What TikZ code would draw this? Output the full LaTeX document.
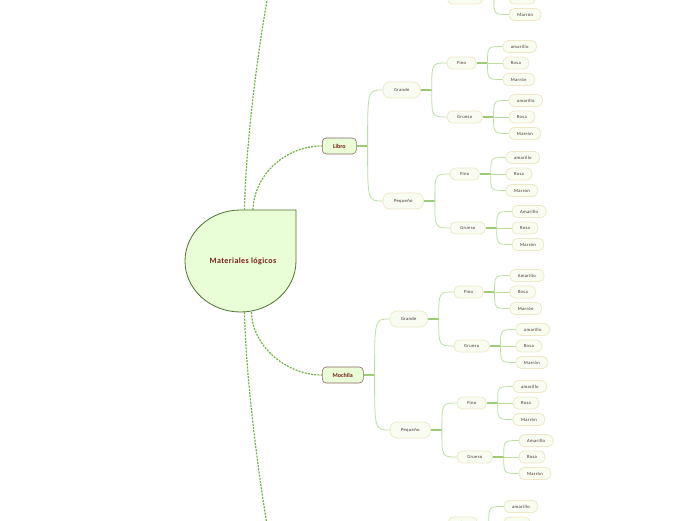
\documentclass[tikz,border=0pt]{standalone}
\usepackage{fontspec}
\setmainfont{Carlito}
\newfontfamily\mapfont{Carlito}[LetterSpace=7]
\newfontfamily\titlefont{Carlito}[LetterSpace=5]
\usetikzlibrary{positioning}

\definecolor{linkgreen}{HTML}{BCDEA3}
\definecolor{stubgreen}{HTML}{9CCB78}
\definecolor{dashgreen}{HTML}{6DB33F}
\definecolor{leaffill}{HTML}{F9FDF1}
\definecolor{leafdraw}{HTML}{EFE7C6}
\definecolor{leaftext}{HTML}{3F2C2A}
\definecolor{mainfill}{HTML}{E9FDD7}
\definecolor{maindraw}{HTML}{4E7430}
\definecolor{topdraw}{HTML}{8E6464}
\definecolor{topred}{HTML}{7A1E1E}

\begin{document}
\begin{tikzpicture}[x=1pt, y=1pt,
    leaf/.style={rectangle, draw=leafdraw, fill=leaffill, rounded corners=5pt, line width=0.8pt, minimum height=12pt, inner xsep=8pt, inner ysep=0pt, anchor=west, text=leaftext, font=\mapfont\fontsize{4.6}{5}\selectfont},
    mid/.style={leaf, inner xsep=10pt},
    grade/.style={leaf, minimum height=16pt, rounded corners=7pt, inner xsep=11pt},
    topic/.style={rectangle, draw=topdraw, fill=mainfill, rounded corners=4pt, line width=0.6pt, minimum height=16pt, inner xsep=5pt, anchor=west, text=topred, font=\fontsize{6}{7}\selectfont\bfseries},
    link/.style={draw=linkgreen, line width=0.8pt},
    stub/.style={draw=stubgreen, line width=1.5pt},
    dashlink/.style={draw=dashgreen, line width=1.2pt, dash pattern=on 2pt off 1.2pt}
]
\useasboundingbox (0,0) rectangle (696,520);
\clip (0,0) rectangle (696,520);

% central topic
\draw[maindraw, fill=mainfill, line width=0.8pt] (240.5,310) -- (296,310) -- (296,259)
    arc[start angle=0, end angle=-270, x radius=55.5pt, y radius=51pt] -- cycle;
\node[minimum width=111pt, minimum height=102pt, text=topred, font=\titlefont\fontsize{8}{9}\selectfont\bfseries] (mat) at (243,259) {Materiales lógicos};

% main topics
\node[topic, minimum width=34pt] (libro) at (322,374) {Libro};
\node[topic, minimum width=41pt] (mochila) at (322,145) {Mochila};

\foreach \t/\g in {libro/l, mochila/m} {
  \node[grade] (\g-g) at ([xshift=26pt,yshift=56pt]\t.east) {Grande};
  \node[grade] (\g-p) at ([xshift=26pt,yshift=-55pt]\t.east) {Pequeño};
  \foreach \s in {g,p} {
    \node[mid] (\g-\s-f) at ([xshift=26pt,yshift=27pt]\g-\s.east) {Fino};
    \node[mid] (\g-\s-g) at ([xshift=26pt,yshift=-27pt]\g-\s.east) {Grueso};
  }
}

% branches cut by the page edge
\node[mid] (t-g) at (447,522) {Grueso};
\node[mid] (b-f) at (448,-3) {Fino};

% colours
\foreach \p/\first in {l-g-f/amarillo, l-g-g/amarillo, l-p-f/amarillo, l-p-g/Amarillo, m-g-f/Amarillo, m-g-g/amarillo, m-p-f/amarillo, m-p-g/Amarillo, t-g/amarillo, b-f/amarillo} {
  \node[leaf] (\p-a) at ([xshift=26pt,yshift=16.5pt]\p.east) {\first};
  \node[leaf] (\p-b) at ([xshift=26pt]\p.east) {Rosa};
  \node[leaf] (\p-c) at ([xshift=26pt,yshift=-16.5pt]\p.east) {Marrón};
}

% connectors
\foreach \p/\a/\b in {libro/l-g/l-p, mochila/m-g/m-p, l-g/l-g-f/l-g-g, l-p/l-p-f/l-p-g, m-g/m-g-f/m-g-g, m-p/m-p-f/m-p-g} {
  \coordinate (\p-j) at ([xshift=11pt]\p.east);
  \draw[stub] (\p.east) -- (\p-j);
  \draw[link] (\p-j) .. controls (\p-j |- \a.west) .. (\a.west);
  \draw[link] (\p-j) .. controls (\p-j |- \b.west) .. (\b.west);
}
\foreach \p in {l-g-f, l-g-g, l-p-f, l-p-g, m-g-f, m-g-g, m-p-f, m-p-g, t-g, b-f} {
  \coordinate (\p-j) at ([xshift=11pt]\p.east);
  \draw[stub] (\p.east) -- (\p-j);
  \draw[link] (\p-j) -- (\p-b.west);
  \draw[link] (\p-j) .. controls (\p-j |- \p-a.west) .. (\p-a.west);
  \draw[link] (\p-j) .. controls (\p-j |- \p-c.west) .. (\p-c.west);
}

\coordinate (upend) at (268,525);
\coordinate (downend) at (267,-5);
\draw[dashlink] ([xshift=1.5pt]mat.north) .. controls (246,380) and (258,470) .. (upend);
\draw[dashlink] ([xshift=10pt]mat.north) .. controls (254,345) and (285,374) .. (libro.west);
\draw[dashlink] ([xshift=1.5pt]mat.south) .. controls (246,140) and (258,50) .. (downend);
\draw[dashlink] ([xshift=8.5pt]mat.south) .. controls (252,175) and (285,145) .. (mochila.west);
\end{tikzpicture}
\end{document}
